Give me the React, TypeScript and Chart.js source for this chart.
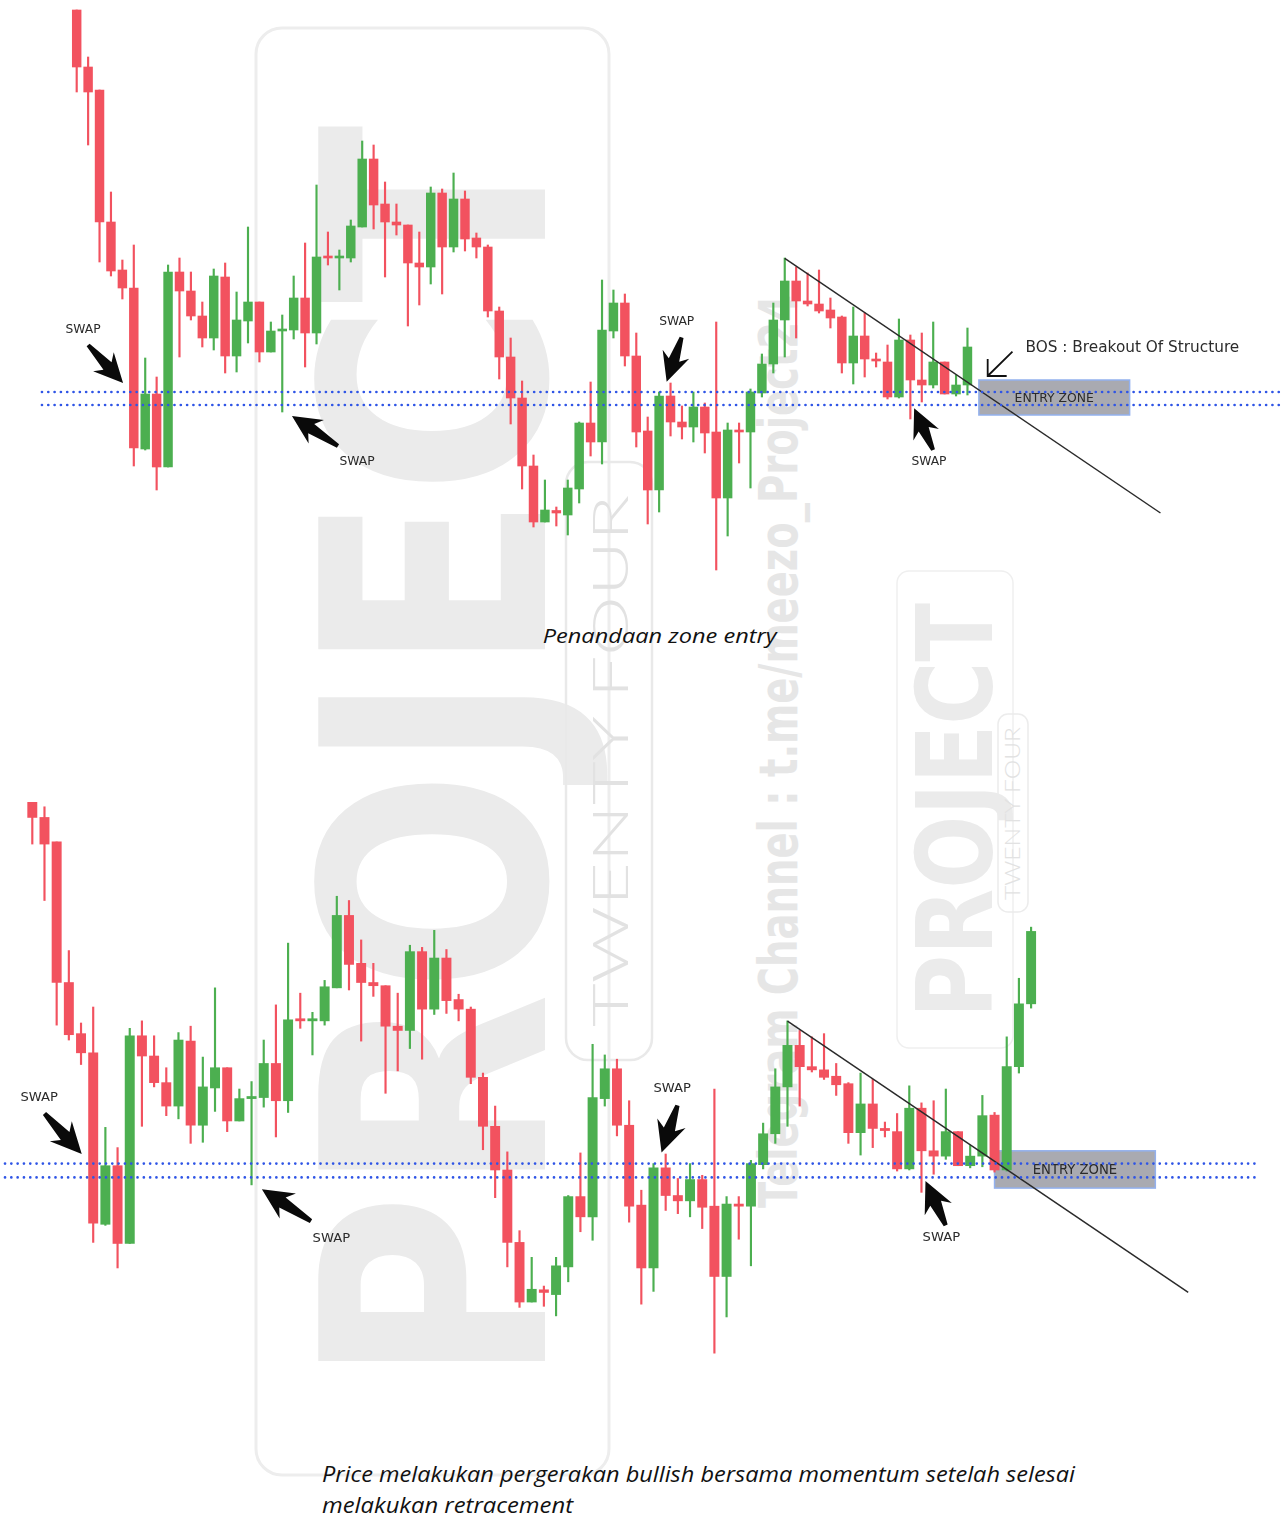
import React, { useEffect, useRef } from "react";
import { Chart, registerables } from "chart.js";

Chart.register(...registerables);

// ---- Candle data (same price series for both panels; lower panel shows 4 more candles) ----
const opens = [
  590, 533, 510, 378, 330, 312, 151, 206, 133, 328,
  309, 284, 262, 323, 244, 279, 298, 248, 269, 270,
  302, 267, 344, 342, 342, 373, 441, 396, 378, 375,
  337, 333, 407, 353, 401, 362, 353, 289, 243, 202,
  134, 78, 89.5, 85, 111, 177, 158, 269, 297, 244,
  169, 110, 204, 178, 173, 193, 168, 102, 170, 168,
  207, 236, 280, 319, 299, 296, 290, 283, 237, 264,
  241, 238, 203, 260, 220, 215, 238, 206, 215, 253.5,
  202, 299, 358,
];
const highs = [
  590, 543, 510, 408, 340, 355, 242, 223, 335, 342,
  328, 298, 331, 337, 308, 373, 298, 278, 285, 324,
  357, 415, 368, 350, 380, 459, 455, 418, 396, 375,
  368, 413, 411, 427, 409, 367, 355, 293, 262, 219,
  145, 120, 93, 120, 178, 218, 320, 310, 306, 267,
  183, 208, 217, 194, 208, 197, 278, 177, 177, 211,
  246, 297, 342, 333, 327, 330, 302, 284, 293, 287,
  247, 255, 281, 265, 267, 278, 238, 225, 272, 256,
  327, 382, 430,
];
const lows = [
  508, 455, 338, 324, 301, 134, 150, 110, 133, 243,
  280, 253, 250, 227, 228, 257, 238, 248, 188, 261,
  233, 256, 335, 310, 338, 373, 371, 323, 365, 274,
  295, 316, 306, 348, 349, 342, 283, 221, 176, 111,
  73, 78, 74, 65, 97, 144, 136, 262, 234, 153,
  76, 88, 164, 161, 158, 147, 30, 64, 137, 112,
  203, 227, 243, 262, 294, 287, 272, 227, 216, 223,
  233, 201, 202, 181, 198, 212, 206, 204, 205, 200,
  201, 293, 354,
];
const closes = [
  533, 508, 378, 329, 312, 152, 206, 133, 328, 309,
  284, 262, 324, 244, 280, 298, 248, 269, 271, 302,
  267, 343, 342, 344, 374, 441, 395, 378, 375, 337,
  333, 407, 353, 401, 361, 353, 289, 243, 202, 134,
  78, 90, 87, 112, 177, 158, 270, 297, 244, 168,
  110, 204, 178, 173, 193, 167, 102, 170, 168, 208,
  236, 280, 319, 299, 296, 289, 282, 237, 264, 241,
  239, 203, 260, 220, 215, 238, 206, 215, 253, 202,
  299, 358, 426,
];

// ---- Levels and drawings (index / price coordinates) ----
const levelPrices = [208, 195];
const trendIndex = [63, 95.9];
const trendPrice = [341.7, 87];
const zoneIndex = [80, 93.2];
const zonePrice = [185, 220];
const swapLabelAt = [[1.56, 270], [25.55, 138], [53.54, 278.3], [75.63, 138.3]];
const swapTailAt = [[2.0, 255], [23.88, 154], [53.97, 262.7], [75.99, 150]];
const swapTipAt = [[5.06, 217], [19.85, 184], [52.66, 218.3], [74.33, 191.7]];
const bosTailAt = [82.94, 248.3];
const bosTipAt = [80.77, 224];
const bosLabelAt = [84.08, 251.7];
const bosLabel = "BOS : Breakout Of Structure";
const zoneLabel = "ENTRY ZONE";
const swapLabel = "SWAP";

const GREEN = "#4caf50";
const RED = "#f2525f";
const BLUE = "#2f55e6";

function thickArrow(ctx: CanvasRenderingContext2D, tx: number, ty: number, px: number, py: number, s: number) {
  const dx = px - tx, dy = py - ty;
  const L = Math.hypot(dx, dy);
  const ux = dx / L, uy = dy / L;
  const nx = -uy, ny = ux;
  const hl = 23 * s, hw = 14 * s, neck = 5.5 * s, tailw = 2 * s, sweep = 6 * s;
  const at = (d: number, w: number) => [tx + ux * d + nx * w, ty + uy * d + ny * w];
  const pts = [at(0, tailw), at(L - hl, neck), at(L - hl - sweep, hw), [px, py], at(L - hl - sweep, -hw), at(L - hl, -neck), at(0, -tailw)];
  ctx.beginPath();
  pts.forEach((p, k) => (k === 0 ? ctx.moveTo(p[0], p[1]) : ctx.lineTo(p[0], p[1])));
  ctx.closePath();
  ctx.fillStyle = "#0a0a0a";
  ctx.fill();
}

const annotPlugin = {
  id: "annot",
  beforeDatasetsDraw(chart: any, _args: any, opts: any) {
    const ctx = chart.ctx as CanvasRenderingContext2D;
    const xs = chart.scales.x, ys = chart.scales.y;
    const x0 = xs.getPixelForValue(zoneIndex[0]);
    const x1 = xs.getPixelForValue(zoneIndex[1]);
    const y0 = ys.getPixelForValue(zonePrice[1]);
    const y1 = ys.getPixelForValue(zonePrice[0]);
    ctx.save();
    ctx.fillStyle = "#a9aab1";
    ctx.fillRect(x0, y0, x1 - x0, y1 - y0);
    ctx.strokeStyle = "#93b1ee";
    ctx.lineWidth = 1.5;
    ctx.strokeRect(x0, y0, x1 - x0, y1 - y0);
    ctx.fillStyle = "#2a2a2a";
    ctx.font = `${12.4 * opts.s}px "DejaVu Sans"`;
    ctx.textAlign = "center";
    ctx.textBaseline = "middle";
    ctx.fillText(zoneLabel, (x0 + x1) / 2, (y0 + y1) / 2 + 1);
    ctx.restore();
  },
  afterDatasetsDraw(chart: any, _args: any, opts: any) {
    const ctx = chart.ctx as CanvasRenderingContext2D;
    const xs = chart.scales.x, ys = chart.scales.y;
    const X = (v: number) => xs.getPixelForValue(v);
    const Y = (v: number) => ys.getPixelForValue(v);
    const s = opts.s;
    ctx.save();
    for (let k = 0; k < swapLabelAt.length; k++) {
      thickArrow(ctx, X(swapTailAt[k][0]), Y(swapTailAt[k][1]), X(swapTipAt[k][0]), Y(swapTipAt[k][1]), s);
      ctx.fillStyle = "#2b2b2b";
      ctx.font = `${12.3 * s}px "DejaVu Sans"`;
      ctx.textAlign = "center";
      ctx.textBaseline = "middle";
      ctx.fillText(swapLabel, X(swapLabelAt[k][0]), Y(swapLabelAt[k][1]));
    }
    if (opts.bos) {
      const tx = X(bosTailAt[0]), ty = Y(bosTailAt[1]);
      const px = X(bosTipAt[0]), py = Y(bosTipAt[1]);
      ctx.strokeStyle = "#111";
      ctx.lineWidth = 1.8;
      ctx.beginPath();
      ctx.moveTo(tx, ty);
      ctx.lineTo(px, py);
      ctx.moveTo(px + 19, py);
      ctx.lineTo(px, py);
      ctx.lineTo(px, py - 17);
      ctx.stroke();
      ctx.fillStyle = "#2b2b2b";
      ctx.font = `15.3px "DejaVu Sans"`;
      ctx.textAlign = "left";
      ctx.textBaseline = "middle";
      ctx.fillText(bosLabel, X(bosLabelAt[0]), Y(bosLabelAt[1]));
    }
    ctx.restore();
  },
};

type Cfg = {
  count: number; top: number; height: number;
  xMin: number; xMax: number; yMin: number; yMax: number;
  levelFrom: number; levelTo: number; bodyWidth: number; s: number; bos: boolean;
};

const topCfg: Cfg = { count: 79, top: 0, height: 600, xMin: -5.716, xMax: 106.98, yMin: 0, yMax: 600, levelFrom: -2.04, levelTo: 106.37, bodyWidth: 8.8, s: 1, bos: true };
const bottomCfg: Cfg = { count: 83, top: 802, height: 560, xMin: -1.652, xMax: 104.01, yMin: 21.7, yMax: 547.5, levelFrom: -1.24, levelTo: 101.39, bodyWidth: 9.3, s: 1.066, bos: false };

function CandleChart({ cfg }: { cfg: Cfg }) {
  const ref = useRef<HTMLCanvasElement>(null);
  useEffect(() => {
    const idx = Array.from({ length: cfg.count }, (_, k) => k + 1);
    const colors = idx.map((i) => (closes[i - 1] >= opens[i - 1] ? GREEN : RED));
    const levelDs = levelPrices.map((p, k) => ({
      type: "line" as const,
      label: `level${k}`,
      data: [{ x: cfg.levelFrom, y: p }, { x: cfg.levelTo, y: p }],
      borderColor: BLUE,
      borderWidth: 2.7,
      borderCapStyle: "round" as const,
      borderDash: [0.01, 6.3],
      pointRadius: 0,
      order: 0,
    }));
    const chart = new Chart(ref.current!, {
      type: "bar",
      data: {
        datasets: [
          ...levelDs,
          {
            type: "line",
            label: "trend",
            data: [{ x: trendIndex[0], y: trendPrice[0] }, { x: trendIndex[1], y: trendPrice[1] }],
            borderColor: "#2a2a2a",
            borderWidth: 1.5,
            pointRadius: 0,
            order: 0,
          },
          {
            type: "bar",
            label: "wick",
            data: idx.map((i) => ({ x: i, y: [lows[i - 1], highs[i - 1]] })),
            backgroundColor: colors,
            barThickness: 1.5,
            grouped: false,
            order: 2,
          },
          {
            type: "bar",
            label: "body",
            data: idx.map((i) => ({ x: i, y: [opens[i - 1], closes[i - 1]] })),
            backgroundColor: colors,
            barThickness: cfg.bodyWidth,
            grouped: false,
            order: 1,
          },
        ] as any,
      },
      options: {
        animation: false,
        responsive: false,
        devicePixelRatio: 1,
        layout: { padding: 0 },
        scales: {
          x: { type: "linear", min: cfg.xMin, max: cfg.xMax, display: false, offset: false },
          y: { type: "linear", min: cfg.yMin, max: cfg.yMax, display: false },
        },
        plugins: {
          legend: { display: false },
          tooltip: { enabled: false },
          annot: { s: cfg.s, bos: cfg.bos },
        } as any,
      },
      plugins: [annotPlugin],
    });
    return () => chart.destroy();
  }, []);
  return (
    <canvas
      ref={ref}
      width={1287}
      height={cfg.height}
      style={{ position: "absolute", left: 0, top: cfg.top, width: 1287, height: cfg.height, zIndex: 1 }}
    />
  );
}

export default function App() {
  const wm = "#ebebeb";
  return (
    <div style={{ position: "absolute", left: 0, top: 0, width: 1287, height: 1517, background: "#ffffff", overflow: "hidden" }}>
      <svg width={1287} height={1517} style={{ position: "absolute", left: 0, top: 0, zIndex: 0 }}>
        <rect x={256} y={28} width={353} height={1447} rx={26} fill="none" stroke="#ededed" strokeWidth={3} />
        <text transform="translate(545,1385) rotate(-90)" fontFamily="DejaVu Sans" fontWeight="bold" fontSize={311} fill={wm} textLength={1260} lengthAdjust="spacingAndGlyphs">PROJECT</text>
        <rect x={566} y={462} width={86} height={598} rx={22} fill="none" stroke="#e9e9e9" strokeWidth={2.5} />
        <text transform="translate(628,1027) rotate(-90)" fontFamily="Lato" fontWeight={300} fontSize={50} fill="#e2e2e2" textLength={532} lengthAdjust="spacingAndGlyphs">TWENTY FOUR</text>
        <text transform="translate(797,1208) rotate(-90)" fontFamily="DejaVu Sans" fontWeight="bold" fontSize={53} fill="#e6e6e6" textLength={913} lengthAdjust="spacingAndGlyphs">Telegram Channel : t.me/meezo_Project24</text>
        <rect x={897} y={571} width={116} height={477} rx={12} fill="none" stroke="#efefef" strokeWidth={1.5} />
        <text transform="translate(992,1018) rotate(-90)" fontFamily="DejaVu Sans" fontWeight="bold" fontSize={105} fill={wm} textLength={415} lengthAdjust="spacingAndGlyphs">PROJECT</text>
        <rect x={998} y={714} width={30} height={198} rx={10} fill="none" stroke="#ececec" strokeWidth={1.5} />
        <text transform="translate(1019.5,900) rotate(-90)" fontFamily="Lato" fontWeight={300} fontSize={21} fill="#e2e2e2" textLength={173} lengthAdjust="spacingAndGlyphs">TWENTY FOUR</text>
        <text x={542.7} y={643.3} fontFamily="Open Sans" fontStyle="italic" fontSize={20} fill="#111" textLength={234} lengthAdjust="spacingAndGlyphs">Penandaan zone entry</text>
        <text x={322} y={1482} fontFamily="Open Sans" fontStyle="italic" fontSize={21} fill="#111" textLength={753} lengthAdjust="spacingAndGlyphs">Price melakukan pergerakan bullish bersama momentum setelah selesai</text>
        <text x={322} y={1513} fontFamily="Open Sans" fontStyle="italic" fontSize={21} fill="#111" textLength={251} lengthAdjust="spacingAndGlyphs">melakukan retracement</text>
      </svg>
      <CandleChart cfg={topCfg} />
      <CandleChart cfg={bottomCfg} />
    </div>
  );
}
